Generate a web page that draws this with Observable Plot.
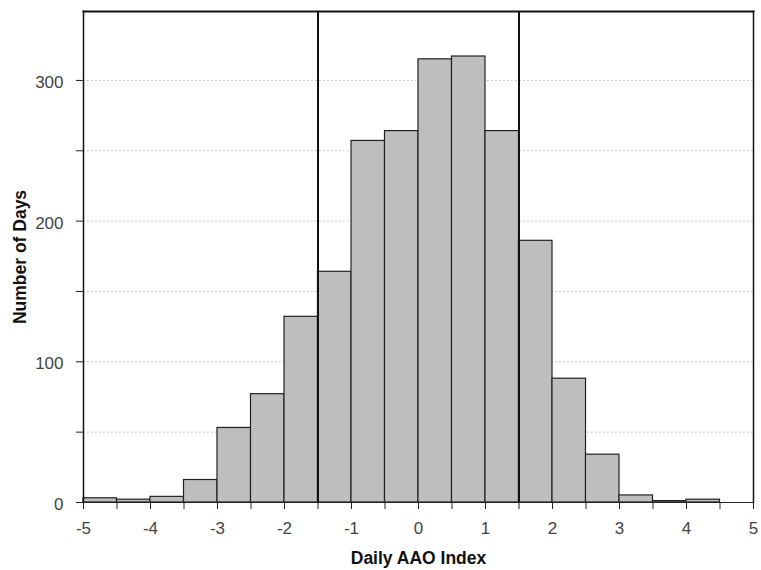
<!DOCTYPE html>
<html>
<head>
<meta charset="utf-8">
<script src="https://cdn.jsdelivr.net/npm/d3@7"></script>
<script src="https://cdn.jsdelivr.net/npm/@observablehq/plot@0.6"></script>
<style>
  html, body { margin: 0; padding: 0; background: #fff; }
  #chart svg { display: block; }
  #chart g[aria-label$="tick label"] text { font-size: 17px; }
  #chart g[aria-label$="axis label"] text { font-size: 17.5px; font-weight: bold; fill: #111; }
</style>
</head>
<body>
<div id="chart"></div>
<script>
// Bin edges (lower/upper) and counts, bin width 0.5
const binStarts = [-5, -4.5, -4, -3.5, -3, -2.5, -2, -1.5, -1, -0.5, 0, 0.5, 1, 1.5, 2, 2.5, 3, 3.5, 4];
const binEnds   = [-4.5, -4, -3.5, -3, -2.5, -2, -1.5, -1, -0.5, 0, 0.5, 1, 1.5, 2, 2.5, 3, 3.5, 4, 4.5];
const counts    = [3, 2, 4, 16, 53, 77, 132, 164, 257, 264, 315, 317, 264, 186, 88, 34, 5, 1, 2];
const thresholds = [-1.5, 1.5];
const xTicks = [-5, -4.5, -4, -3.5, -3, -2.5, -2, -1.5, -1, -0.5, 0, 0.5, 1, 1.5, 2, 2.5, 3, 3.5, 4, 4.5, 5];
const xTickLabels = ["-5", "", "-4", "", "-3", "", "-2", "", "-1", "", "0", "", "1", "", "2", "", "3", "", "4", "", "5"];
const yTicks = [0, 50, 100, 150, 200, 250, 300];
const yTickLabels = ["0", "", "100", "", "200", "", "300"];
const gridLevels = [50, 100, 150, 200, 250, 300];

const bins = counts.map((c, i) => ({x1: binStarts[i], x2: binEnds[i], y: c}));

const chart = Plot.plot({
  width: 761,
  height: 570,
  marginLeft: 83,
  marginRight: 8,
  marginTop: 11,
  marginBottom: 68,
  style: {fontFamily: "'Liberation Sans', Arial, sans-serif", fontSize: "17px", color: "#333", background: "#fff"},
  x: {domain: [-5, 5]},
  y: {domain: [0, 349]},
  marks: [
    Plot.ruleY(gridLevels, {stroke: "#b8b8b8", strokeWidth: 1, strokeDasharray: "1.5,2.5"}),
    Plot.rectY(bins, {x1: "x1", x2: "x2", y: "y", fill: "#bebebe", stroke: "#222", strokeWidth: 1.2}),
    Plot.ruleX(thresholds, {stroke: "#111", strokeWidth: 2}),
    Plot.ruleY([0], {stroke: "#222", strokeWidth: 1.2}),
    Plot.frame({anchor: "top", stroke: "#111", strokeWidth: 2}),
    Plot.frame({anchor: "left", stroke: "#111", strokeWidth: 1.5}),
    Plot.frame({anchor: "right", stroke: "#111", strokeWidth: 1.5}),
    Plot.axisX({
      ticks: xTicks,
      tickFormat: d => xTickLabels[xTicks.indexOf(d)],
      tickSize: 7,
      tickPadding: 12,
      fontSize: 17,
      stroke: "#222",
      fill: "#444",
      label: "Daily AAO Index",
      labelAnchor: "center",
      labelArrow: "none",
      labelOffset: 61
    }),
    Plot.axisY({
      ticks: yTicks,
      tickFormat: d => yTickLabels[yTicks.indexOf(d)],
      tickSize: 7,
      tickPadding: 13,
      fontSize: 17,
      stroke: "#222",
      fill: "#444",
      label: "Number of Days",
      labelAnchor: "center",
      labelArrow: "none",
      labelOffset: 70
    })
  ]
});

// nudge y tick labels down slightly to match the reference
chart.querySelectorAll("g[aria-label='y-axis tick label'] text").forEach(t => {
  t.setAttribute("dy", "2");
});
document.getElementById("chart").appendChild(chart);
</script>
</body>
</html>
